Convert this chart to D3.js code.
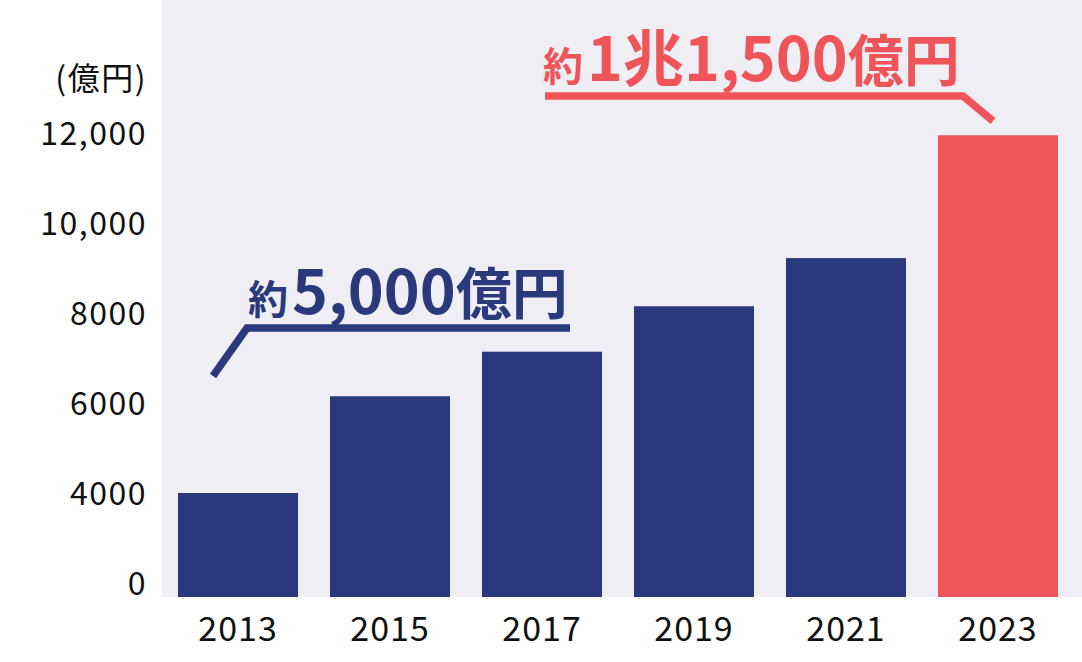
<!DOCTYPE html>
<meta charset="utf-8">
<html>
  <head>
    <title>market size bars</title>
    <style>
      body { margin: 0; background: #fff; }
      svg { display: block; }
      .tick text, .unit {
        font-family: "Noto Sans CJK JP", "Noto Sans", sans-serif;
        fill: #111;
      }
      .y-axis .tick text, .unit {
        font-size: 32px;
        letter-spacing: 1.5px;
      }
      .x-axis .tick text {
        font-size: 34px;
        letter-spacing: 1px;
      }
      .note {
        font-family: "Noto Sans CJK JP", sans-serif;
        font-weight: 700;
      }
    </style>
  </head>
  <body>
    <script src="https://cdn.jsdelivr.net/npm/d3@7"></script>
    <script>

      // data
      var years = ["2013", "2015", "2017", "2019", "2021", "2023"];
      var values = [4000, 6150, 7140, 8150, 9220, 11950];
      var yTicks = [0, 4000, 6000, 8000, 10000, 12000];
      var yTickLabels = ["0", "4000", "6000", "8000", "10,000", "12,000"];
      var unitLabel = "(億円)";

      var W = 1082, H = 662;
      var plotLeft = 162, plotBottom = 597;

      var navy = "#29397b", red = "#ef5558";

      var svg = d3.select("body").append("svg")
          .attr("width", W)
          .attr("height", H);

      // plot background
      svg.append("rect")
          .attr("x", plotLeft)
          .attr("y", 0)
          .attr("width", W - plotLeft)
          .attr("height", plotBottom)
          .attr("fill", "#efeef5");

      var x = d3.scaleBand()
          .domain(years)
          .range([plotLeft, 1074])
          .paddingInner(0.2105)
          .paddingOuter(0.1053);

      // the axis is not linear below 4000 in the original
      var y = d3.scaleLinear()
          .domain([0, 4000, 12000])
          .range([583, 493, 133]);

      svg.selectAll(".bar")
          .data(values)
        .enter().append("rect")
          .attr("class", "bar")
          .attr("x", function(d, i) { return x(years[i]); })
          .attr("width", x.bandwidth())
          .attr("y", function(d) { return y(d); })
          .attr("height", function(d) { return plotBottom - y(d); })
          .attr("fill", function(d, i) { return i == years.length - 1 ? red : navy; });

      var yAxis = svg.append("g")
          .attr("class", "y-axis")
          .attr("transform", "translate(" + plotLeft + ",0)")
          .call(d3.axisLeft(y)
            .tickValues(yTicks)
            .tickSize(0)
            .tickPadding(15)
            .tickFormat(function(d, i) { return yTickLabels[i]; }));
      yAxis.select(".domain").remove();
      yAxis.selectAll(".tick text").attr("dy", "0.36em").attr("fill", null);

      svg.append("text")
          .attr("class", "unit")
          .attr("x", plotLeft - 15)
          .attr("y", y(12000) - 55)
          .attr("dy", "0.36em")
          .attr("text-anchor", "end")
          .text(unitLabel);

      var xAxis = svg.append("g")
          .attr("class", "x-axis")
          .attr("transform", "translate(0," + plotBottom + ")")
          .call(d3.axisBottom(x).tickSize(0).tickPadding(20));
      xAxis.select(".domain").remove();
      xAxis.selectAll(".tick text").attr("dy", "0.71em").attr("fill", null);

      // annotations
      function note(cfg) {
        svg.append("path")
            .attr("d", d3.line()(cfg.leader))
            .attr("fill", "none")
            .attr("stroke", cfg.color)
            .attr("stroke-width", 7.5);

        var t = svg.append("text")
            .attr("class", "note")
            .attr("x", cfg.x)
            .attr("y", cfg.y)
            .attr("fill", cfg.color);
        t.append("tspan").style("font-size", "40px").text("約");
        t.append("tspan").attr("dx", 4).style("font-size", "61px").text(cfg.num);
        t.append("tspan").style("font-size", "56px").text("億円");
      }

      note({
        color: navy, x: 248, y: 314, num: "5,000",
        leader: [[213, 376], [247, 328], [570, 328]]
      });
      note({
        color: red, x: 543, y: 81, num: "1兆1,500",
        leader: [[545, 96], [963, 96], [993, 121]]
      });

    </script>
  </body>
</html>
